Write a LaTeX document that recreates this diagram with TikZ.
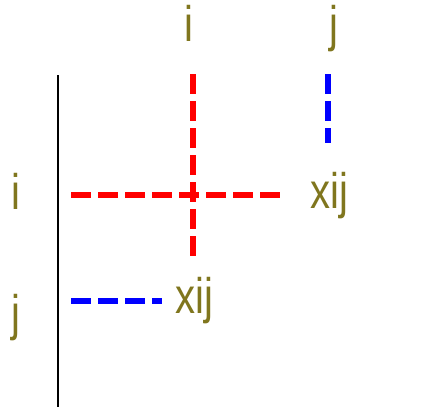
\documentclass[tikz,border=0pt]{standalone}
\usepackage{fontspec}
\newfontfamily\lblfont[FakeStretch=0.8]{Liberation Sans}
\definecolor{lblcol}{RGB}{128,118,30}
\begin{document}
\begin{tikzpicture}[x=1pt,y=-1pt,
  lbl/.style={inner sep=0pt,text=lblcol,font=\lblfont\fontsize{50}{50}\selectfont},
  dline/.style={line width=6pt,dash pattern=on 20pt off 7pt}]
\useasboundingbox (0,0) rectangle (444,407);
% labels
\node[lbl,anchor=base] (ti) at (188.5,41) {i};
\node[lbl,anchor=base] (tj) at (334,41) {j};
\node[lbl,anchor=base] (li) at (16,209) {i};
\node[lbl,anchor=base] (lj) at (16,330) {j};
\node[lbl,anchor=base west] (x1) at (310,208) {xij};
\node[lbl,anchor=base west] (x2) at (175,313) {xij};
% coordinates
\coordinate (axT) at (58,75);
\coordinate (axB) at (58,407);
\coordinate (rvT) at (193,74);
\coordinate (rvB) at (193,256);
\coordinate (rhL) at (71,195);
\coordinate (rhR) at (284,195);
\coordinate (bvT) at (328,74);
\coordinate (bvB) at (328,143);
\coordinate (bhL) at (71,301);
\coordinate (bhR) at (162,301);
% lines
\draw[line width=1.8pt] (axT) -- (axB);
\draw[dline,red] (rvT) -- (rvB);
\draw[dline,red] (rhL) -- (rhR);
\draw[dline,blue] (bvT) -- (bvB);
\draw[dline,blue] (bhL) -- (bhR);
\end{tikzpicture}
\end{document}
